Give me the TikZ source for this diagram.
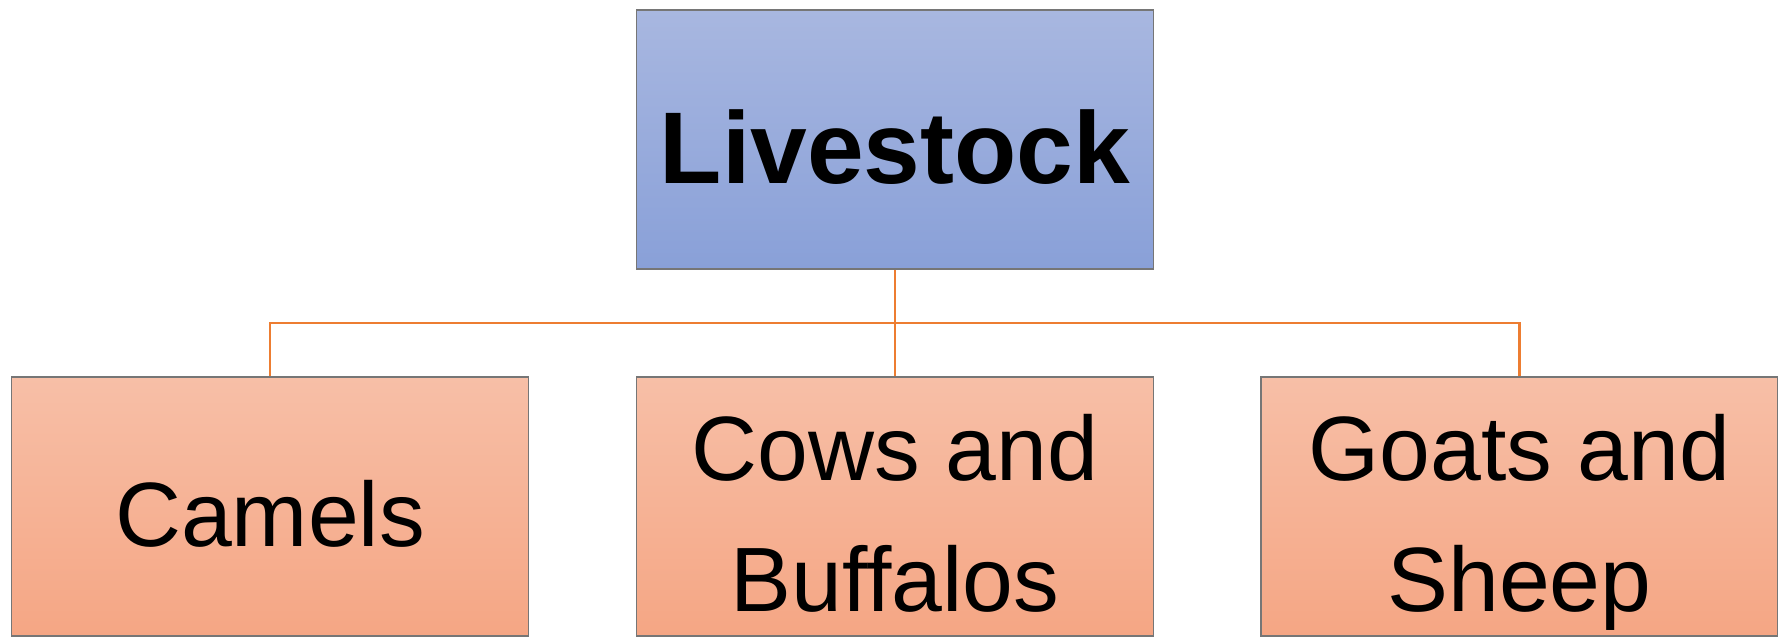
\documentclass[tikz,border=0pt]{standalone}
\usepackage{fontspec}
\setmainfont{Liberation Sans}
\definecolor{headtop}{RGB}{168,183,224}
\definecolor{headbot}{RGB}{137,160,216}
\definecolor{leaftop}{RGB}{247,191,167}
\definecolor{leafbot}{RGB}{245,166,132}
\definecolor{linkorange}{RGB}{237,125,49}
\definecolor{edgegray}{RGB}{118,118,118}
\tikzset{
    box/.style={draw=edgegray, line width=0.6pt, rectangle, minimum width=10.34cm, minimum height=5.18cm, inner sep=0pt, align=center},
    head/.style={box, top color=headtop, bottom color=headbot, font=\fontsize{58}{70}\selectfont\bfseries, text height=1.74cm, text depth=0pt},
    leaf/.style={box, top color=leaftop, bottom color=leafbot, font=\fontsize{52}{74.6}\selectfont, text height=1.59cm, text depth=0pt},
    twoline/.style={text height=4.21cm, text depth=0pt},
    link/.style={draw=linkorange, line width=1.2pt}
}
\begin{document}
\begin{tikzpicture}
    \useasboundingbox (0,0) rectangle (35.56,-12.72);

    \node[head] (livestock) at (17.9,-2.79) {Livestock};
    \node[leaf] (camels) at (5.4,-10.13) {Camels};
    \node[leaf, twoline] (cows) at (17.9,-10.13) {Cows and\\Buffalos};
    \node[leaf, twoline] (goats) at (30.39,-10.13) {Goats and\\Sheep};

    \coordinate (bus) at (17.9,-6.46);
    \draw[link] (livestock.south) -- (bus);
    \draw[link] (bus) -| (camels.north);
    \draw[link] (bus) -- (cows.north);
    \draw[link] (bus) -| (goats.north);
\end{tikzpicture}
\end{document}
